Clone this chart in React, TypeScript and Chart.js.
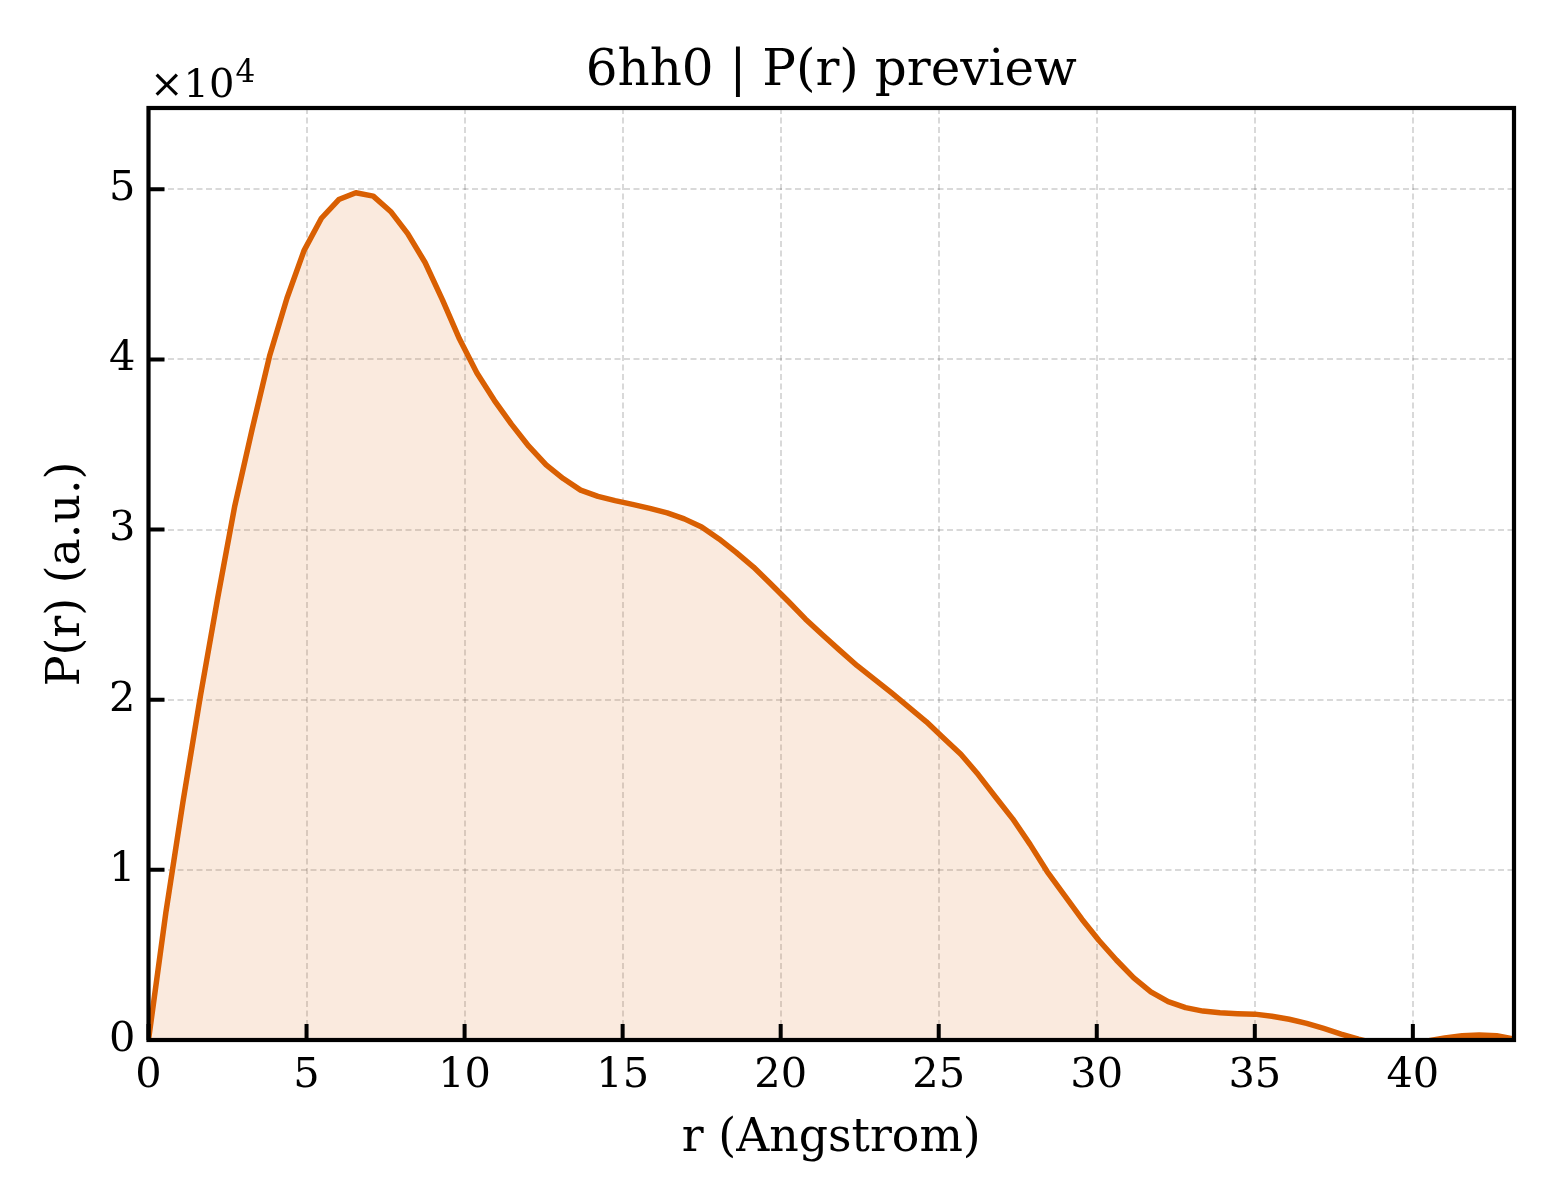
import React, { useEffect, useRef } from 'react';
import { Chart, registerables } from 'chart.js';

Chart.register(...registerables);

const TITLE = '6hh0 | P(r) preview';
const X_LABEL = 'r (Angstrom)';
const Y_LABEL = 'P(r) (a.u.)';
const OFFSET_BASE = '×10';
const OFFSET_EXP = '4';
const Y_UNIT = 10000;

const R_VALUES = [
  0, 0.55, 1.09, 1.64, 2.19, 2.73, 3.28, 3.83, 4.38, 4.92,
  5.47, 6.02, 6.56, 7.11, 7.66, 8.2, 8.75, 9.3, 9.84, 10.39,
  10.94, 11.48, 12.03, 12.58, 13.12, 13.67, 14.22, 14.76, 15.31, 15.86,
  16.41, 16.95, 17.5, 18.05, 18.59, 19.14, 19.69, 20.23, 20.78, 21.33,
  21.87, 22.42, 22.97, 23.51, 24.06, 24.61, 25.15, 25.7, 26.25, 26.79,
  27.34, 27.89, 28.43, 28.98, 29.53, 30.07, 30.62, 31.17, 31.71, 32.26,
  32.81, 33.36, 33.9, 34.45, 35.0, 35.54, 36.09, 36.64, 37.18, 37.73,
  38.28, 38.82, 39.37, 39.92, 40.46, 41.01, 41.56, 42.1, 42.65, 43.2,
];

const P_VALUES = [
  0, 7500, 14000, 20200, 26000, 31400, 35900, 40200, 43600, 46400,
  48300, 49400, 49800, 49600, 48700, 47400, 45700, 43500, 41200, 39200,
  37600, 36200, 34900, 33800, 33000, 32320, 31950, 31700, 31480, 31250,
  30980, 30630, 30150, 29450, 28660, 27800, 26800, 25800, 24750, 23800,
  22900, 22000, 21200, 20400, 19550, 18700, 17750, 16800, 15600, 14300,
  13000, 11500, 9900, 8500, 7100, 5850, 4700, 3650, 2830, 2250,
  1900, 1700, 1600, 1550, 1520, 1400, 1220, 980, 680, 350,
  50, -200, -300, -300, -50, 120, 250, 300, 250, 50,
];

const X_TICKS = [0, 5, 10, 15, 20, 25, 30, 35, 40];
const Y_TICKS = [0, 10000, 20000, 30000, 40000, 50000];
const X_MAX = 43.2;
const Y_MAX = 54780;

const FONT = '"DejaVu Serif", "Liberation Serif", serif';
const LINE_COLOR = '#d95f02';
const FILL_COLOR = 'rgba(217, 95, 2, 0.13)';
const GRID_COLOR = 'rgba(0, 0, 0, 0.15)';

const framePlugin = {
  id: 'mplFrame',
  afterDatasetsDraw(chart: any) {
    const { ctx, chartArea: a, scales } = chart;
    const x = scales.x;
    const y = scales.y;
    ctx.save();
    ctx.setLineDash([]);
    ctx.strokeStyle = '#000';
    ctx.lineCap = 'butt';
    ctx.lineWidth = 4;
    ctx.beginPath();
    x.ticks.forEach((t: any) => {
      const px = x.getPixelForValue(t.value);
      ctx.moveTo(px, a.bottom);
      ctx.lineTo(px, a.bottom - 16);
    });
    y.ticks.forEach((t: any) => {
      const py = y.getPixelForValue(t.value);
      ctx.moveTo(a.left, py);
      ctx.lineTo(a.left + 16, py);
    });
    ctx.stroke();
    ctx.lineWidth = 4.2;
    ctx.strokeRect(a.left, a.top, a.right - a.left, a.bottom - a.top);

    ctx.fillStyle = '#000';
    ctx.font = `50px ${FONT}`;
    ctx.textAlign = 'center';
    ctx.textBaseline = 'alphabetic';
    ctx.fillText(TITLE, (a.left + a.right) / 2, 85);

    ctx.textAlign = 'left';
    ctx.font = `40px ${FONT}`;
    ctx.fillText(OFFSET_BASE, 150, 97);
    const w = ctx.measureText(OFFSET_BASE).width;
    ctx.font = `31px ${FONT}`;
    ctx.fillText(OFFSET_EXP, 150 + w + 1, 82);
    ctx.restore();
  },
};

export default function App() {
  const canvasRef = useRef<HTMLCanvasElement | null>(null);

  useEffect(() => {
    document.body.style.margin = '0';
    const canvas = canvasRef.current;
    if (!canvas) return;
    const points = R_VALUES.map((r, i) => ({ x: r, y: P_VALUES[i] }));
    const chart = new Chart(canvas, {
      type: 'line',
      data: {
        datasets: [
          {
            label: 'P(r)',
            data: points,
            borderColor: LINE_COLOR,
            backgroundColor: FILL_COLOR,
            borderWidth: 5.5,
            pointRadius: 0,
            tension: 0,
            fill: 'origin',
            borderJoinStyle: 'round',
            clip: 0,
          },
        ],
      },
      options: {
        animation: false,
        responsive: true,
        maintainAspectRatio: false,
        layout: { padding: { top: 108, right: 46, left: 0, bottom: 0 } },
        plugins: {
          legend: { display: false },
          title: { display: false },
          tooltip: { enabled: false },
        },
        scales: {
          x: {
            type: 'linear',
            min: 0,
            max: X_MAX,
            afterFit: (s: any) => { s.height = 160; },
            afterBuildTicks: (s: any) => { s.ticks = X_TICKS.map((v) => ({ value: v })); },
            grid: { color: GRID_COLOR, lineWidth: 2, drawTicks: false },
            border: { display: false, dash: [6, 3.5] },
            ticks: {
              color: '#000',
              font: { family: FONT, size: 41.5 },
              padding: 11,
              maxRotation: 0,
              callback: (v: any) => String(v),
            },
            title: {
              display: true,
              text: X_LABEL,
              color: '#000',
              font: { family: FONT, size: 45.8 },
              padding: { top: 0, bottom: 33 },
            },
          },
          y: {
            type: 'linear',
            min: 0,
            max: Y_MAX,
            afterFit: (s: any) => { s.width = 148.5; },
            afterBuildTicks: (s: any) => { s.ticks = Y_TICKS.map((v) => ({ value: v })); },
            grid: { color: GRID_COLOR, lineWidth: 2, drawTicks: false },
            border: { display: false, dash: [6, 3.5] },
            ticks: {
              color: '#000',
              font: { family: FONT, size: 41.5 },
              padding: 13,
              callback: (v: any) => String(Math.round(Number(v) / Y_UNIT)),
            },
            title: {
              display: true,
              text: Y_LABEL,
              color: '#000',
              font: { family: FONT, size: 45.8 },
              padding: { top: 40, bottom: 0 },
            },
          },
        },
      },
      plugins: [framePlugin],
    } as any);
    return () => chart.destroy();
  }, []);

  return (
    <div style={{ width: 1560, height: 1200, position: 'relative' }}>
      <canvas ref={canvasRef} />
    </div>
  );
}
